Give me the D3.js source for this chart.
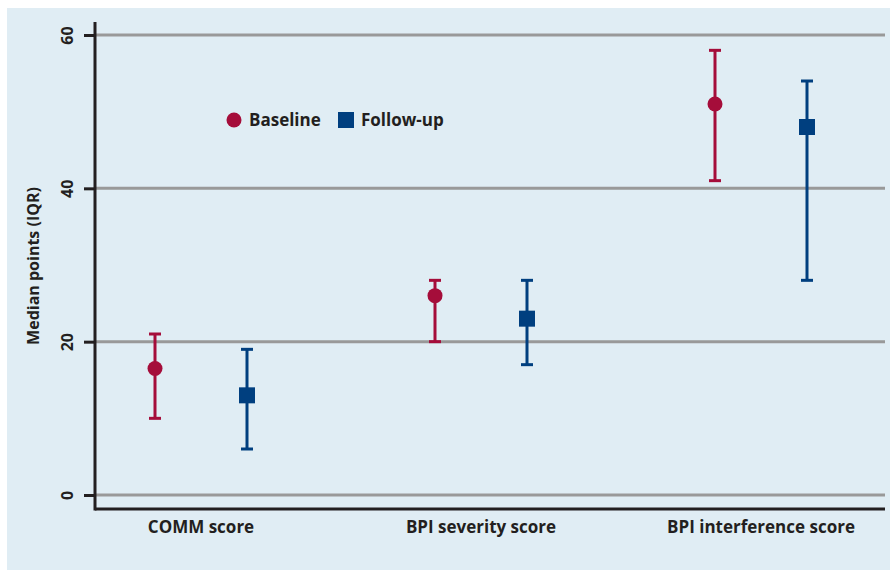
<!DOCTYPE html>
<html><head><meta charset="utf-8">
<script src="https://cdn.jsdelivr.net/npm/d3@7"></script>
<style>body{margin:0;background:#fff;}svg{display:block;font-family:"Open Sans",Lato,sans-serif;}</style>
</head><body>
<svg id="chart" width="890" height="572"></svg>
<script>
const categories = ["COMM score", "BPI severity score", "BPI interference score"];
const seriesNames = ["Baseline", "Follow-up"];
const baselineMedian = [16.5, 26, 51];
const baselineLow = [10, 20, 41];
const baselineHigh = [21, 28, 58];
const followMedian = [13, 23, 48];
const followLow = [6, 17, 28];
const followHigh = [19, 28, 54];
const yTicks = [0, 20, 40, 60];

const red = "#a50d3a", blue = "#003f7f", ink = "#231f20";
const svg = d3.select("#chart");
svg.append("rect").attr("x",7).attr("y",8).attr("width",883).attr("height",562).attr("fill","#e0edf4");

const left = 95, right = 885, plotBottom = 509;
const y = d3.scaleLinear().domain([0,60]).range([495,35]);
const x = d3.scaleBand().domain(categories).range([61,901]);
const off = d3.scalePoint().domain(seriesNames).range([-46,46]);

// gridlines
svg.append("g").selectAll("line").data(yTicks).join("line")
  .attr("x1",left).attr("x2",right).attr("y1",d=>y(d)).attr("y2",d=>y(d))
  .attr("stroke","#999").attr("stroke-width",3);

// y axis
const yAxis = svg.append("g").attr("transform",`translate(${left},0)`)
  .call(d3.axisLeft(y).tickValues(yTicks).tickSize(11).tickPadding(0));
yAxis.select(".domain").remove();
yAxis.selectAll(".tick line").attr("stroke",ink).attr("stroke-width",3);
yAxis.selectAll(".tick text").attr("x",null).attr("dy",null)
  .attr("transform","translate(-28,0) rotate(-90)").attr("text-anchor","middle").attr("dy","0.35em")
  .attr("font-size",16).attr("font-weight","bold").attr("fill",ink).attr("font-family","'Open Sans'");

svg.append("line").attr("x1",left).attr("x2",left).attr("y1",22).attr("y2",plotBottom+1.5)
  .attr("stroke",ink).attr("stroke-width",3);
svg.append("line").attr("x1",left).attr("x2",right).attr("y1",plotBottom).attr("y2",plotBottom)
  .attr("stroke",ink).attr("stroke-width",3);

// x labels
svg.append("g").selectAll("text").data(categories).join("text")
  .attr("x",d=>x(d)+x.bandwidth()/2).attr("y",533).attr("text-anchor","middle")
  .attr("font-size",17).attr("font-weight","bold").attr("fill",ink).text(d=>d);

// y title
svg.append("text").attr("transform","translate(39,266) rotate(-90)").attr("text-anchor","middle")
  .attr("font-size",16).attr("font-weight","bold").attr("fill",ink).text("Median points (IQR)");

const series = [
  {name:"Baseline", color:red, med:baselineMedian, lo:baselineLow, hi:baselineHigh},
  {name:"Follow-up", color:blue, med:followMedian, lo:followLow, hi:followHigh}
];
series.forEach(s=>{
  const g = svg.append("g");
  const data = categories.map((c,i)=>({c, m:s.med[i], lo:s.lo[i], hi:s.hi[i], cx:x(c)+x.bandwidth()/2+off(s.name)}));
  g.selectAll(".v").data(data).join("line").attr("x1",d=>d.cx).attr("x2",d=>d.cx)
    .attr("y1",d=>y(d.lo)).attr("y2",d=>y(d.hi)).attr("stroke",s.color).attr("stroke-width",3);
  ["lo","hi"].forEach(k=>{
    g.selectAll(".c"+k).data(data).join("line").attr("x1",d=>d.cx-6).attr("x2",d=>d.cx+6)
      .attr("y1",d=>y(d[k])).attr("y2",d=>y(d[k])).attr("stroke",s.color).attr("stroke-width",3);
  });
  if(s.name==="Baseline"){
    g.selectAll("circle").data(data).join("circle").attr("cx",d=>d.cx).attr("cy",d=>y(d.m)).attr("r",7.5).attr("fill",s.color);
  } else {
    g.selectAll("rect").data(data).join("rect").attr("x",d=>d.cx-8).attr("y",d=>y(d.m)-8).attr("width",16).attr("height",16).attr("fill",s.color);
  }
});

// legend
const lg = svg.append("g");
lg.append("circle").attr("cx",234).attr("cy",120).attr("r",7.5).attr("fill",red);
lg.append("text").attr("x",249).attr("y",126).attr("font-size",17).attr("font-weight","bold").attr("fill",ink).text(seriesNames[0]);
lg.append("rect").attr("x",338).attr("y",112).attr("width",16).attr("height",16).attr("fill",blue);
lg.append("text").attr("x",361).attr("y",126).attr("font-size",17).attr("font-weight","bold").attr("fill",ink).text(seriesNames[1]);
</script>
</body></html>
